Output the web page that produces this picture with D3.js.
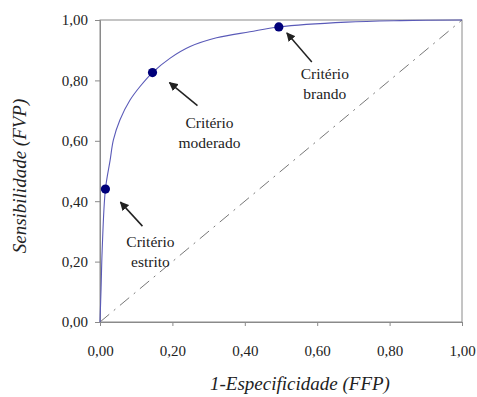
<!DOCTYPE html>
<html>
<head>
<meta charset="utf-8">
<script src="https://cdn.jsdelivr.net/npm/d3@7"></script>
</head>
<body style="margin:0;background:#fff">
<div id="chart"></div>
<script>
// ROC curve (x = 1-especificidade, y = sensibilidade)
const curveFFP = [0, 0.003, 0.006, 0.015, 0.028, 0.037, 0.055, 0.083, 0.110, 0.145, 0.193, 0.249, 0.322, 0.414, 0.494, 0.681, 0.829, 1];
const curveFVP = [0, 0.113, 0.238, 0.44, 0.536, 0.603, 0.669, 0.735, 0.779, 0.826, 0.873, 0.912, 0.941, 0.961, 0.977, 0.993, 0.998, 1];

const criterioNames = ['estrito', 'moderado', 'brando'];
const criterioFFP = [0.015, 0.145, 0.494];
const criterioFVP = [0.44, 0.826, 0.977];

const tickValues = [0, 0.2, 0.4, 0.6, 0.8, 1];

const width = 477, height = 397;
const margin = { top: 20, right: 15, bottom: 75, left: 100 };
const serif = '"Liberation Serif"';
const fmt = d => d3.format('.2f')(d).replace('.', ',');

const svg = d3.select('#chart').append('svg')
  .attr('width', width)
  .attr('height', height);

const x = d3.scaleLinear().domain([0, 1]).range([margin.left, width - margin.right]);
const y = d3.scaleLinear().domain([0, 1]).range([height - margin.bottom, margin.top]);

// frame
svg.append('rect')
  .attr('x', x(0)).attr('y', y(1))
  .attr('width', x(1) - x(0)).attr('height', y(0) - y(1))
  .attr('fill', 'none').attr('stroke', '#8a8a8a');

// axes
const xAxis = svg.append('g')
  .attr('transform', `translate(0,${y(0)})`)
  .call(d3.axisBottom(x).tickValues(tickValues).tickFormat(fmt).tickSize(4).tickPadding(19));
const yAxis = svg.append('g')
  .attr('transform', `translate(${x(0)},0)`)
  .call(d3.axisLeft(y).tickValues(tickValues).tickFormat(fmt).tickSize(5).tickPadding(7));
[xAxis, yAxis].forEach(g => {
  g.select('.domain').attr('stroke', '#8a8a8a');
  g.selectAll('.tick line').attr('stroke', '#8a8a8a');
  g.selectAll('.tick text')
    .style('font-family', serif).style('font-size', '15px')
    .attr('fill', '#222');
});

// diagonal reference
svg.append('line')
  .attr('x1', x(0)).attr('y1', y(0))
  .attr('x2', x(1)).attr('y2', y(1))
  .attr('stroke', '#777').attr('stroke-width', 1)
  .attr('stroke-dasharray', '12,6,2,6');

// ROC curve
const pts = curveFFP.map((d, i) => [d, curveFVP[i]]);
const line = d3.line()
  .x(d => x(d[0])).y(d => y(d[1]))
  .curve(d3.curveCatmullRom.alpha(0.5));
svg.append('path')
  .attr('d', line(pts))
  .attr('fill', 'none')
  .attr('stroke', '#5a5ab8')
  .attr('stroke-width', 1.1);

// criterion points
svg.selectAll('circle.crit')
  .data(criterioNames)
  .join('circle')
  .attr('class', 'crit')
  .attr('cx', (d, i) => x(criterioFFP[i]))
  .attr('cy', (d, i) => y(criterioFVP[i]))
  .attr('r', 4.6)
  .attr('fill', '#00007a');

// arrows and labels (offsets relative to point)
svg.append('defs').append('marker')
  .attr('id', 'arrow')
  .attr('viewBox', '0 0 10 10')
  .attr('refX', 9).attr('refY', 5)
  .attr('markerWidth', 9).attr('markerHeight', 9)
  .attr('markerUnits', 'userSpaceOnUse')
  .attr('orient', 'auto')
  .append('path').attr('d', 'M0,0 L10,5 L0,10 z').attr('fill', '#222');

const arrowFrom = [[37, 37], [45, 33], [33, 35]];
const arrowTo = [[15, 13], [17, 10], [8, 6]];
const labelOff = [[45, 58], [57, 55], [46, 52]];

criterioNames.forEach((name, i) => {
  const px = x(criterioFFP[i]), py = y(criterioFVP[i]);
  svg.append('line')
    .attr('x1', px + arrowFrom[i][0]).attr('y1', py + arrowFrom[i][1])
    .attr('x2', px + arrowTo[i][0]).attr('y2', py + arrowTo[i][1])
    .attr('stroke', '#222').attr('stroke-width', 1.5)
    .attr('marker-end', 'url(#arrow)');
  const t = svg.append('text')
    .attr('y', py + labelOff[i][1])
    .attr('text-anchor', 'middle')
    .attr('fill', '#222')
    .style('font-family', serif).style('font-size', '15.5px');
  t.append('tspan').attr('x', px + labelOff[i][0]).text('Critério');
  t.append('tspan').attr('x', px + labelOff[i][0]).attr('dy', 20).text(name);
});

// axis titles
svg.append('text')
  .attr('x', 300).attr('y', 390)
  .attr('text-anchor', 'middle')
  .attr('fill', '#222')
  .style('font-family', serif).style('font-size', '19px').style('font-style', 'italic')
  .text('1-Especificidade (FFP)');
svg.append('text')
  .attr('transform', `translate(26,${(y(0) + y(1)) / 2 + 5}) rotate(-90)`)
  .attr('text-anchor', 'middle')
  .attr('fill', '#222')
  .style('font-family', serif).style('font-size', '19px').style('font-style', 'italic')
  .text('Sensibilidade (FVP)');
</script>
</body>
</html>
